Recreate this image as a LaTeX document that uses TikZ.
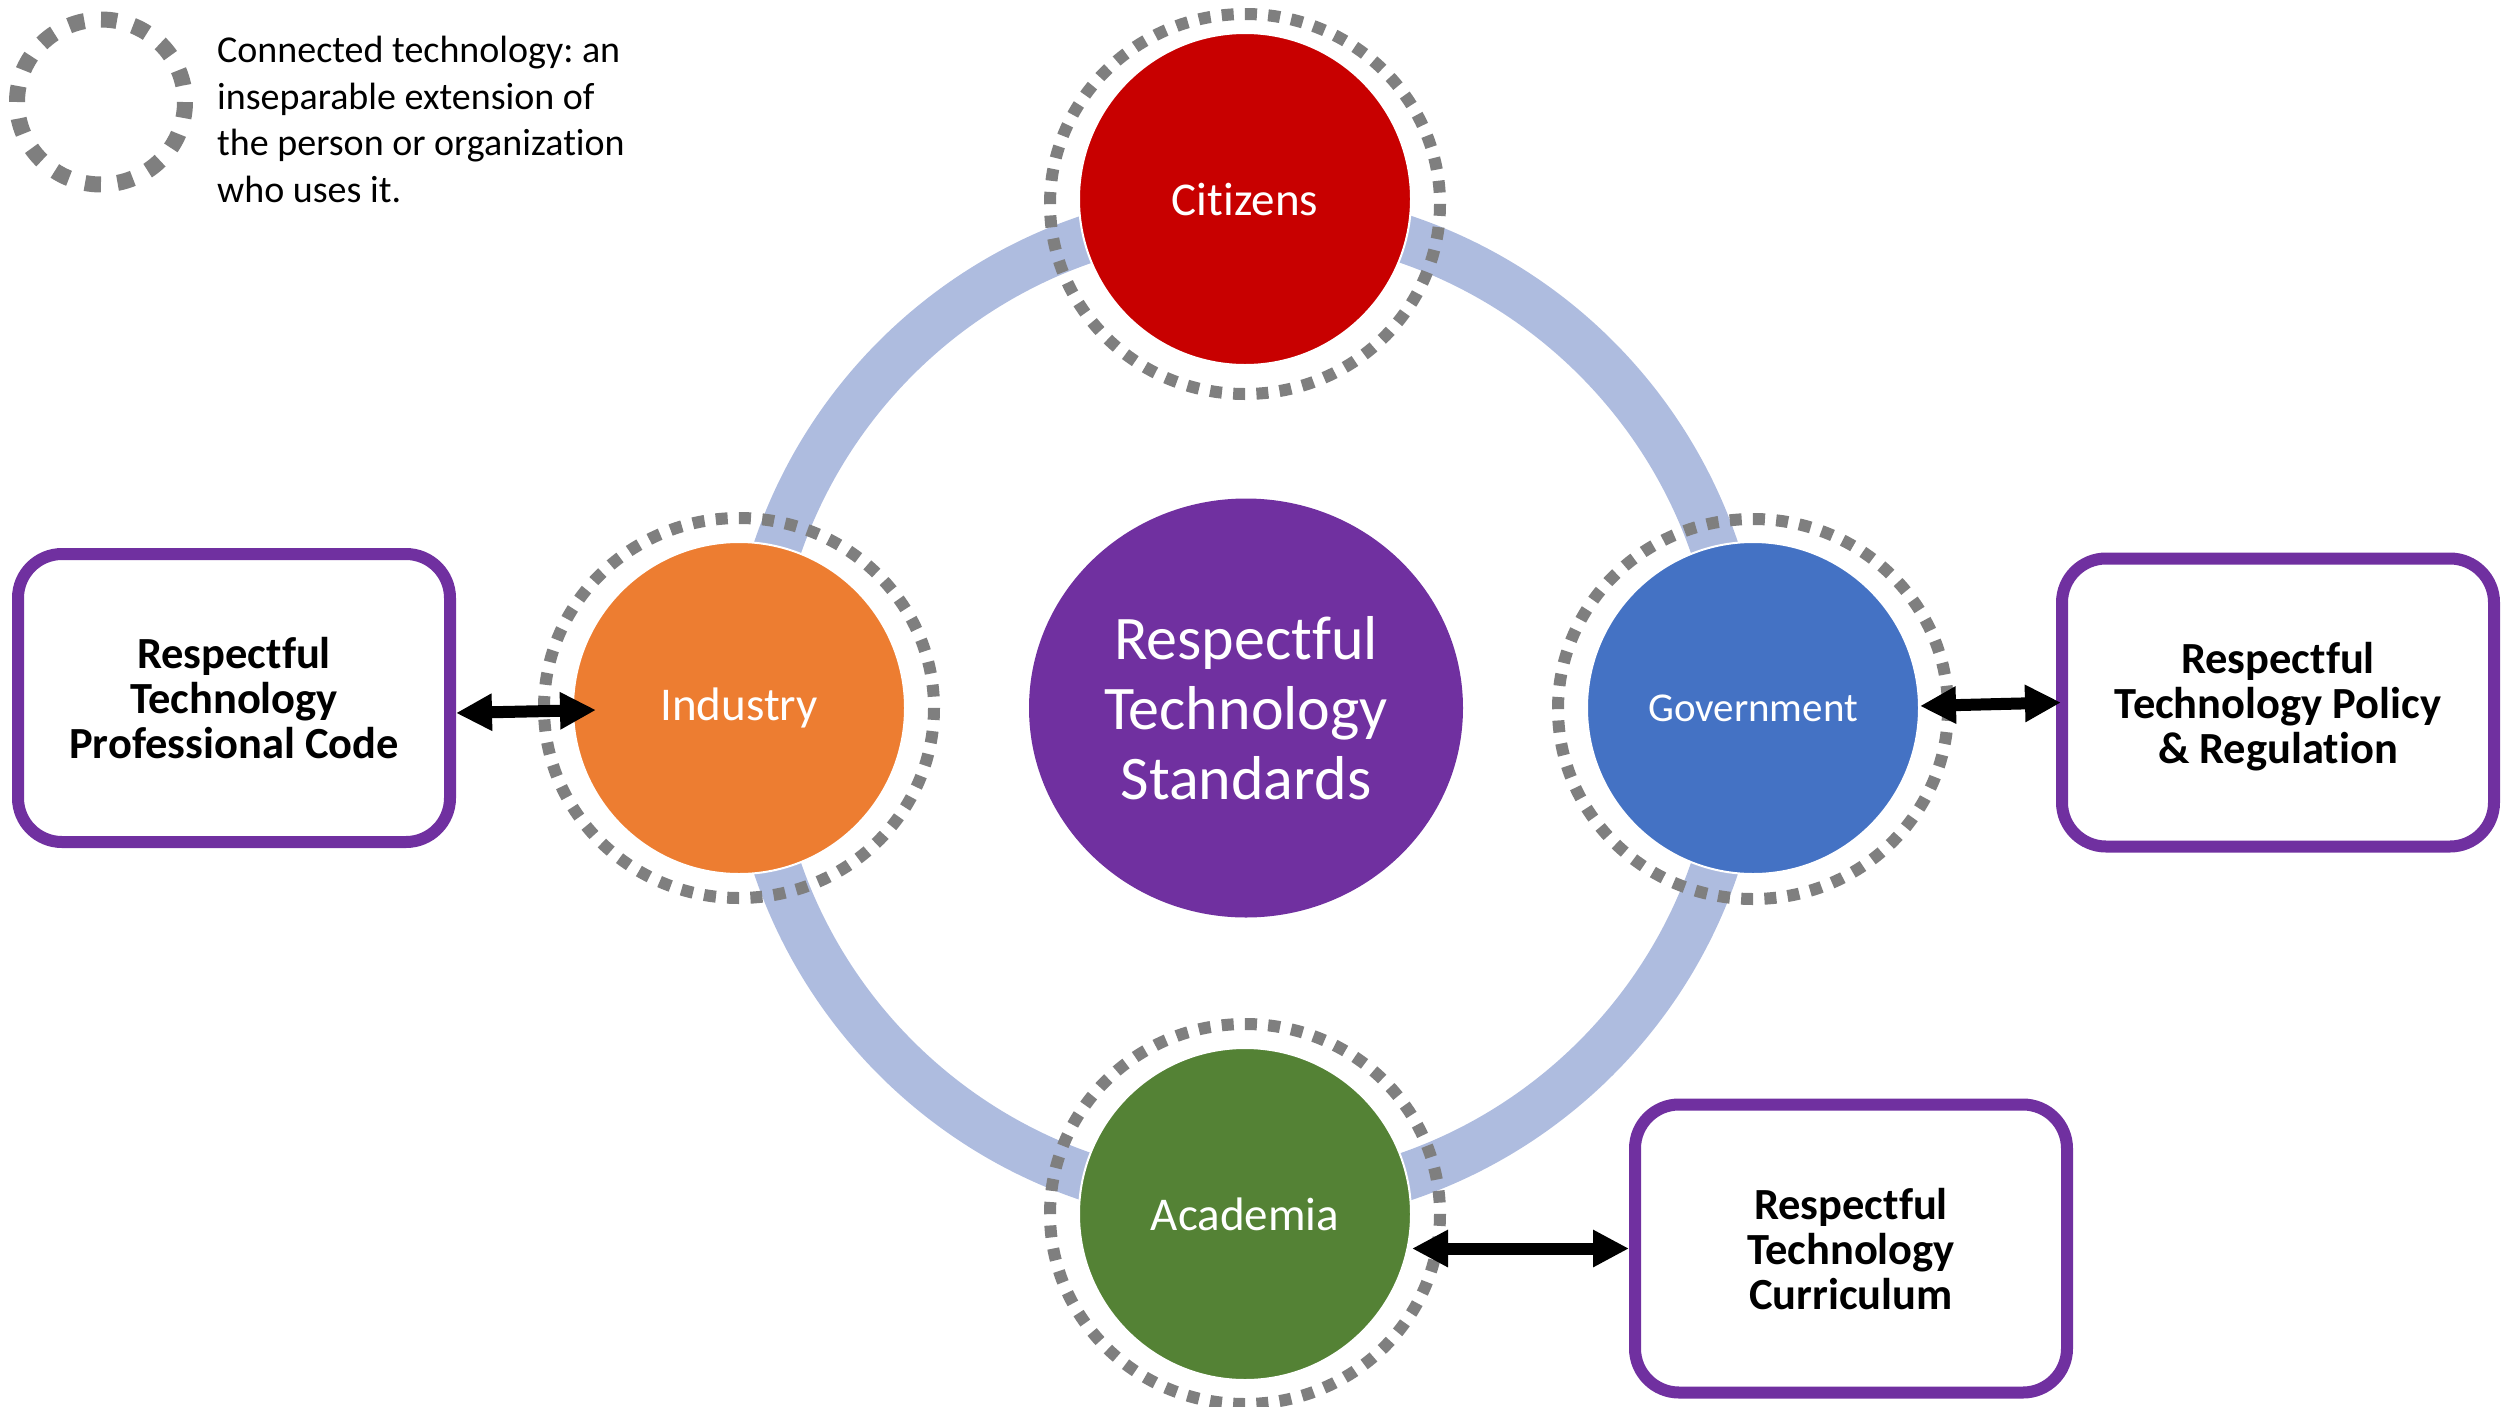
\documentclass[tikz,border=0pt]{standalone}
\usepackage{fontspec}
\setmainfont[Ligatures=NoCommon]{Carlito}
\usetikzlibrary{arrows.meta,calc,shapes.geometric}
\definecolor{cred}{RGB}{200,0,0}
\definecolor{corange}{RGB}{237,125,49}
\definecolor{cblue}{RGB}{68,114,196}
\definecolor{cgreen}{RGB}{84,130,53}
\definecolor{cpurple}{RGB}{112,48,160}
\definecolor{cband}{RGB}{174,188,223}
\definecolor{cgray}{RGB}{127,127,127}
\begin{document}
\frenchspacing
\begin{tikzpicture}[x=1pt,y=-1pt,
  actor/.style={circle, fill=#1, draw=white, line width=2pt, minimum size=332pt, inner sep=0pt, text=white, font=\fontsize{47}{56}\selectfont},
  ring/.style={draw=cgray, line width=12pt, dash pattern=on 12pt off 11.26pt},
  legring/.style={draw=cgray, line width=16pt, dash pattern=on 16pt off 16.7pt},
  band/.style={draw=cband, line width=48pt},
  core/.style={ellipse, fill=cpurple, minimum width=434pt, minimum height=419pt, inner sep=0pt, text=white, align=center, font=\fontsize{62}{70}\selectfont},
  goalbox/.style={draw=cpurple, fill=white, line width=12pt, rounded corners=44pt, minimum width=432pt, minimum height=288pt, inner sep=0pt, align=center, text depth=0pt, font=\bfseries\fontsize{44.5}{45}\selectfont},
  legtext/.style={inner sep=0pt, align=left, font=\fontsize{38}{46.5}\selectfont},
  link/.style={line width=12pt, {Triangle[length=36pt,width=35pt]}-{Triangle[length=36pt,width=35pt]}}
]
\useasboundingbox (0,0) rectangle (2501,1406);
% big connecting ring
\coordinate (o) at (1246,708);
\draw[band] (o) circle[radius=495pt];
% central node
\node[core] (std) at (o) {Respectful\\Technology\\Standards};
% actors
\node[actor=cred] (cit) at (1245,199) {Citizens};
\node[actor=corange] (ind) at (739,708) {Industry};
\node[actor=cblue, font=\fontsize{41}{50}\selectfont] (gov) at (1753,708) {Government};
\node[actor=cgreen] (aca) at (1245,1214) {Academia};
% connected-technology rings
\draw[ring] ($(cit)+(-195,5)$) arc[start angle=180, end angle=-180, x radius=195pt, y radius=190pt];
\draw[ring] ($(ind)+(-195,0)$) arc[start angle=180, end angle=-180, x radius=195pt, y radius=190pt];
\draw[ring] ($(gov)+(-195,1)$) arc[start angle=180, end angle=-180, x radius=195pt, y radius=190pt];
\draw[ring] ($(aca)+(-195,0)$) arc[start angle=180, end angle=-180, x radius=195pt, y radius=190pt];
% legend
\coordinate (legc) at (101,102);
\draw[legring] ($(legc)+(-84,0)$) arc[start angle=180, end angle=-180, x radius=84pt, y radius=82.5pt];
\node[legtext, anchor=north west] (leg) at (217,36) {Connected technology: an\\inseparable extension of\\the person or organization\\who uses it.};
% outcome boxes
\node[goalbox] (lbox) at (234,698) {Respectful\\Technology\\Professional Code};
\node[goalbox] (rbox) at (2278,702.5) {Respectful\\Technology Policy\\\& Regulation};
\node[goalbox] (bbox) at (1851,1248.5) {Respectful\\Technology\\Curriculum};
% arrows
\draw[link] ($(lbox.east)+(0,15)$) -- ($(ind.west)+(24,2)$);
\draw[link] ($(gov.east)+(0,-2)$) -- ($(rbox.west)+(5,0)$);
\draw[link] (aca.east |- bbox.west) -- (bbox.west);
\end{tikzpicture}
\end{document}
